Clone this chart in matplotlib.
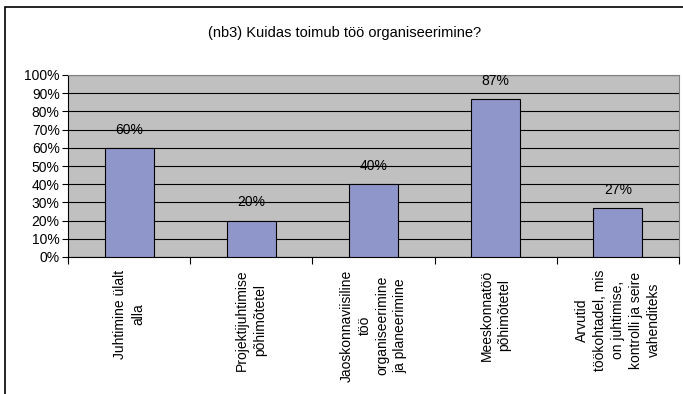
import numpy as np
import matplotlib.pyplot as plt
from matplotlib.patches import Rectangle
from matplotlib.ticker import PercentFormatter, FixedLocator

plt.rcParams['font.family'] = ['Liberation Sans', 'DejaVu Sans']

title = "(nb3) Kuidas toimub töö organiseerimine?"
categories = [
    "Juhtimine ülalt\nalla",
    "Projektijuhtimise\npõhimõtetel",
    "Jaoskonnaviisiline\ntöö\norganiseerimine\nja planeerimine",
    "Meeskonnatöö\npõhimõtetel",
    "Arvutid\ntöökohtadel, mis\non juhtimise,\nkontrolli ja seire\nvahenditeks",
]
values = [60, 20, 40, 87, 27]

W, H = 683, 394
fig = plt.figure(figsize=(W / 100, H / 100), dpi=100)
fig.patch.set_facecolor("white")

# outer chart border (right and bottom run off the image)
fig.patches.append(Rectangle((5 / W, -0.1), 1.2, 1.1 - 7 / H, transform=fig.transFigure,
                             fill=False, edgecolor="black", linewidth=1.2))

ax = fig.add_axes([68 / W, 1 - 257 / H, (679 - 68) / W, (257 - 75) / H])
ax.set_facecolor("#C0C0C0")

x = np.arange(len(values))
bars = ax.bar(x, values, width=0.4, color="#8E96CA", edgecolor="black", linewidth=0.8, zorder=3)
for b, v in zip(bars, values):
    ax.annotate(f"{v}%", (b.get_x() + b.get_width() / 2, v), xytext=(0, 8),
                textcoords="offset points", ha="center", va="bottom", fontsize=10)

ax.set_xlim(-0.5, len(values) - 0.5)
ax.set_ylim(0, 100)
ax.set_yticks(np.arange(0, 101, 10))
ax.yaxis.set_major_formatter(PercentFormatter(decimals=0))
ax.yaxis.grid(True, color="black", linewidth=0.8, zorder=1)
ax.set_axisbelow(True)

# category labels centred, tick marks at category boundaries
ax.set_xticks(x)
ax.set_xticklabels(categories, rotation=90, ha="center", va="top", multialignment="center",
                   fontsize=10, linespacing=1.35)
ax.tick_params(axis="x", length=0, pad=9)
ax.xaxis.set_minor_locator(FixedLocator(np.arange(-0.5, len(values), 1.0)))
ax.tick_params(axis="x", which="minor", length=5, width=0.8, direction="out")
ax.tick_params(axis="y", length=4, width=0.8, direction="out", labelsize=10, pad=2)

ax.spines["top"].set_color("#808080")
ax.spines["right"].set_color("#808080")
ax.spines["left"].set_color("black")
ax.spines["bottom"].set_color("black")

fig.text(345 / W, 1 - 33 / H, title, ha="center", va="center", fontsize=10.5)

fig.savefig("out.png", dpi=100)
